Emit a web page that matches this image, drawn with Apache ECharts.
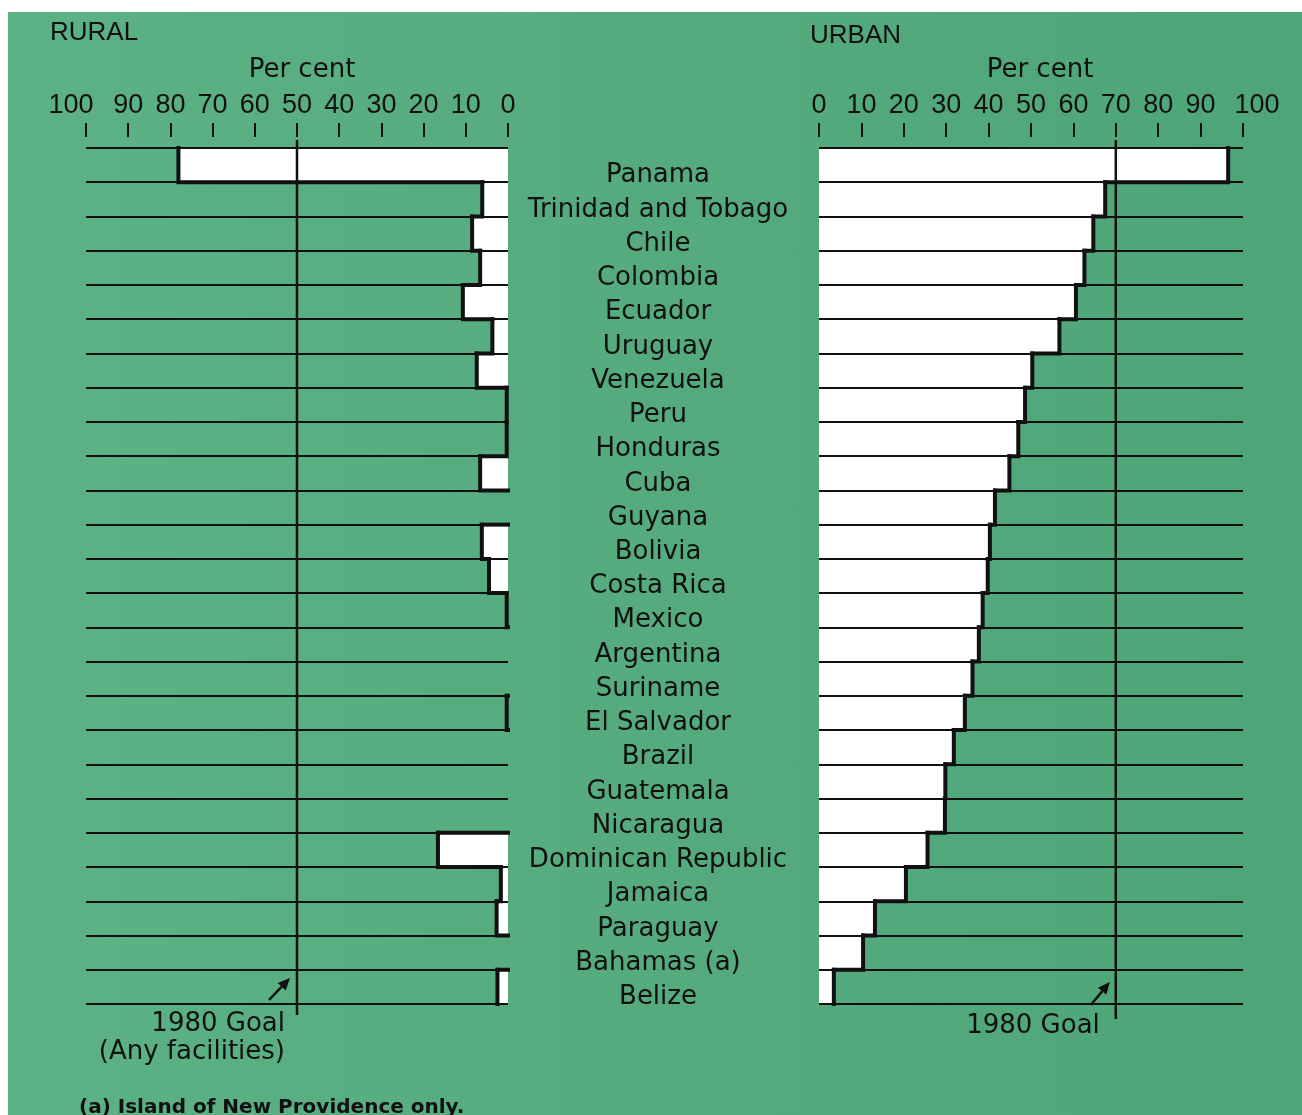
<!DOCTYPE html>
<html>
<head>
<meta charset="utf-8">
<script src="https://cdn.jsdelivr.net/npm/echarts@6/dist/echarts.min.js"></script>
<style>
html,body{margin:0;padding:0;background:#ffffff;}
#bg{position:absolute;left:8px;top:12px;width:1294px;height:1103px;background:linear-gradient(90deg,#5cb185 0%,#55ab7e 50%,#4ea577 100%);}
#chart{position:absolute;left:0;top:0;width:1302px;height:1115px;}
</style>
</head>
<body>
<div id="bg"></div>
<div id="chart"></div>
<script>
// ---- data ----
const countries = ['Panama','Trinidad and Tobago','Chile','Colombia','Ecuador','Uruguay','Venezuela','Peru','Honduras','Cuba','Guyana','Bolivia','Costa Rica','Mexico','Argentina','Suriname','El Salvador','Brazil','Guatemala','Nicaragua','Dominican Republic','Jamaica','Paraguay','Bahamas (a)','Belize'];
const ruralPct = [78.1, 6.1, 8.5, 6.6, 10.7, 3.7, 7.4, 0.3, 0.3, 6.6, 0, 6.2, 4.5, 0.3, 0, 0, 0.3, 0, 0, 0, 16.6, 1.7, 2.7, 0, 2.5];
const urbanPct = [96.5, 67.5, 64.7, 62.6, 60.6, 56.7, 50.3, 48.6, 47.0, 44.9, 41.5, 40.3, 39.8, 38.6, 37.7, 36.2, 34.4, 31.8, 29.8, 29.7, 25.6, 20.5, 13.2, 10.4, 3.5];
const axisMin = 0, axisMax = 100, axisStep = 10;
const ruralGoal = 50;
const urbanGoal = 70;
const ruralGoalText = ['1980 Goal', '(Any facilities)'];
const urbanGoalText = ['1980 Goal'];
const footnote = '(a) Island of New Providence only.';

const INK = '#111';
const FONT = 'DejaVu Sans';
const TICKFONT = '"Liberation Sans Narrow", "Liberation Sans", sans-serif';

function outlineRenderer(values) {
  return function (params, api) {
    const i = params.dataIndex;
    const v = values[i];
    const next = i + 1 < values.length ? values[i + 1] : null;
    const c = api.coord([v, i]);
    const h = api.size([0, 1])[1];
    const top = c[1] - h / 2, bot = c[1] + h / 2;
    const x = c[0];
    const pts = [];
    if (v > 0) { pts.push([x, top], [x, bot]); }
    if (next !== null && (v > 0 || next > 0)) {
      const xn = api.coord([next, i])[0];
      if (!pts.length) pts.push([x, bot]);
      pts.push([xn, bot]);
    }
    if (pts.length < 2) return null;
    return {
      type: 'polyline',
      shape: { points: pts },
      style: { stroke: INK, lineWidth: 4, fill: null, lineJoin: 'miter', lineCap: 'square' }
    };
  };
}

function goalRenderer(goal, lines, cfg) {
  return function (params, api) {
    const cs = params.coordSys;
    const x = api.coord([goal, 0])[0];
    const top = cs.y - 8;
    const bot = cs.y + cs.height;
    const children = [{
      type: 'line',
      shape: { x1: x, y1: top, x2: x, y2: bot + cfg.lineExt },
      style: { stroke: INK, lineWidth: 2.5 }
    }];
    const tx = x + cfg.tail[0], ty = bot + cfg.tail[1];
    const hx = x + cfg.head[0], hy = bot + cfg.head[1];
    const ang = Math.atan2(hy - ty, hx - tx);
    const L = 12, W = 5.5;
    const bx = hx - L * Math.cos(ang), by = hy - L * Math.sin(ang);
    children.push({
      type: 'line',
      shape: { x1: tx, y1: ty, x2: bx, y2: by },
      style: { stroke: INK, lineWidth: 2.5 }
    });
    children.push({
      type: 'polygon',
      shape: { points: [[hx, hy], [bx + W * Math.sin(ang), by - W * Math.cos(ang)], [bx - W * Math.sin(ang), by + W * Math.cos(ang)]] },
      style: { fill: INK }
    });
    lines.forEach(function (t, k) {
      children.push({
        type: 'text',
        x: x + cfg.textDx,
        y: bot + cfg.textDy + k * 28,
        style: { text: t, fill: INK, fontSize: 26, fontFamily: FONT, align: 'right', verticalAlign: 'middle' }
      });
    });
    return { type: 'group', children: children };
  };
}

function valueAxis(gridIndex, inverse) {
  // the end label "100" sits a little outside its tick in the reference
  const edgePad = inverse ? [0, 30, 0, 0] : [0, 0, 0, 28];
  return {
    gridIndex: gridIndex, type: 'value', min: axisMin, max: axisMax, interval: axisStep,
    inverse: inverse, position: 'top', offset: 11,
    axisLine: { show: false },
    axisTick: { show: true, length: 14, inside: false, lineStyle: { color: INK, width: 2 } },
    axisLabel: {
      margin: 18, color: INK, fontSize: 27, fontFamily: TICKFONT,
      formatter: function (v) { return v === axisMax ? '{e|' + v + '}' : String(v); },
      rich: { e: { padding: edgePad, color: INK, fontSize: 27, fontFamily: TICKFONT } }
    },
    splitLine: { show: false },
    name: 'Per cent', nameLocation: 'middle', nameGap: 54,
    nameTextStyle: { color: INK, fontSize: 26, fontFamily: FONT, padding: inverse ? [0, 0, 0, 10] : [0, 0, 0, 18] }
  };
}

const chart = echarts.init(document.getElementById('chart'), null, { renderer: 'canvas' });
chart.setOption({
  animation: false,
  backgroundColor: 'transparent',
  title: [
    { text: 'RURAL', left: 45, top: 15, padding: 5, textStyle: { color: INK, fontSize: 26, fontWeight: 'normal', fontFamily: 'Liberation Sans' } },
    { text: 'URBAN', left: 805, top: 18, padding: 5, textStyle: { color: INK, fontSize: 26, fontWeight: 'normal', fontFamily: 'Liberation Sans' } },
    { text: footnote, left: 74, top: 1093, padding: 5, textStyle: { color: INK, fontSize: 20, fontWeight: 'bold', fontFamily: FONT } }
  ],
  grid: [
    { left: 86, top: 148, width: 422, height: 856, outerBoundsMode: 'none' },
    { left: 819, top: 148, width: 424, height: 856, outerBoundsMode: 'none' }
  ],
  xAxis: [valueAxis(0, true), valueAxis(1, false)],
  yAxis: [
    {
      gridIndex: 0, type: 'category', data: countries, inverse: true, z: 5,
      axisLine: { show: false }, axisTick: { show: false }, axisLabel: { show: false },
      splitLine: { show: true, lineStyle: { color: INK, width: 2 } }
    },
    {
      gridIndex: 1, type: 'category', data: countries, inverse: true, z: 5,
      axisLine: { show: false }, axisTick: { show: false },
      axisLabel: { show: true, interval: 0, margin: 161, align: 'center', verticalAlign: 'top', lineHeight: 21,
        color: INK, fontSize: 26, fontFamily: FONT },
      splitLine: { show: true, lineStyle: { color: INK, width: 2 } }
    }
  ],
  series: [
    { type: 'bar', xAxisIndex: 0, yAxisIndex: 0, data: ruralPct, barWidth: '100%', z: 2, silent: true,
      itemStyle: { color: '#ffffff' } },
    { type: 'bar', xAxisIndex: 1, yAxisIndex: 1, data: urbanPct, barWidth: '100%', z: 2, silent: true,
      itemStyle: { color: '#ffffff' } },
    { type: 'custom', xAxisIndex: 0, yAxisIndex: 0, z: 6, silent: true,
      data: ruralPct.map(function (v, i) { return [v, i]; }), encode: { x: 0, y: 1 },
      renderItem: outlineRenderer(ruralPct) },
    { type: 'custom', xAxisIndex: 1, yAxisIndex: 1, z: 6, silent: true,
      data: urbanPct.map(function (v, i) { return [v, i]; }), encode: { x: 0, y: 1 },
      renderItem: outlineRenderer(urbanPct) },
    { type: 'custom', xAxisIndex: 0, yAxisIndex: 0, z: 7, silent: true, clip: false,
      data: [[ruralGoal, 0]], encode: { x: 0, y: 1 },
      renderItem: goalRenderer(ruralGoal, ruralGoalText, { lineExt: 11, tail: [-28, -4], head: [-7, -26], textDx: -12, textDy: 20 }) },
    { type: 'custom', xAxisIndex: 1, yAxisIndex: 1, z: 7, silent: true, clip: false,
      data: [[urbanGoal, 0]], encode: { x: 0, y: 1 },
      renderItem: goalRenderer(urbanGoal, urbanGoalText, { lineExt: 15, tail: [-25, 1], head: [-6, -22], textDx: -16, textDy: 22 }) }
  ]
});
</script>
</body>
</html>
